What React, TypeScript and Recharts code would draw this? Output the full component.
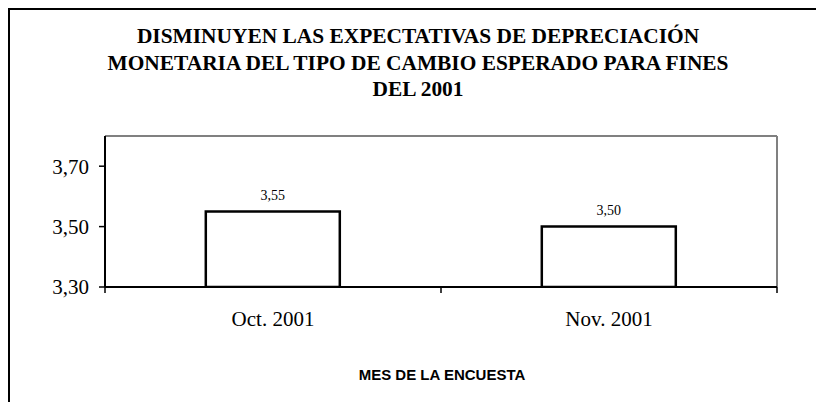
import React from 'react';
import { BarChart, Bar, XAxis, YAxis, LabelList, ReferenceLine } from 'recharts';

const categories = ['Oct. 2001', 'Nov. 2001'];
const values = [3.55, 3.5];
const yTicks = [3.3, 3.5, 3.7];
const yDomain: [number, number] = [3.3, 3.8];
const titleLines = [
  'DISMINUYEN LAS EXPECTATIVAS DE DEPRECIACIÓN',
  'MONETARIA DEL TIPO DE CAMBIO ESPERADO PARA FINES',
  'DEL 2001',
];
const xAxisTitle = 'MES DE LA ENCUESTA';

const data = categories.map((c, i) => ({ name: c, value: values[i] }));

const fmt = (v: any) => Number(v).toFixed(2).replace('.', ',');

const SERIF = '"Liberation Serif", "Times New Roman", serif';
const SANS = '"Liberation Sans", Arial, sans-serif';

const XTick = (props: any) => {
  const { x, y, payload } = props;
  const half = payload && payload.offset ? payload.offset : 168;
  const axisY = y - 6;
  const isLast = payload.value === categories[categories.length - 1];
  return (
    <g>
      <line x1={x - half} x2={x - half} y1={axisY} y2={axisY + 6} stroke="#000" strokeWidth={1.5} />
      {isLast && (
        <line x1={x + half} x2={x + half} y1={axisY} y2={axisY + 6} stroke="#000" strokeWidth={1.5} />
      )}
      <text x={x} y={y} dy={33} textAnchor="middle" fontSize={21} fontFamily={SERIF} fill="#000">
        {payload.value}
      </text>
    </g>
  );
};

export default function App() {
  return (
    <div style={{ position: 'absolute', left: 0, top: 0, width: 816, height: 402, overflow: 'hidden', background: '#fff' }}>
      <div
        style={{
          position: 'absolute',
          left: 8,
          top: 8,
          width: 900,
          height: 500,
          borderLeft: '2px solid #000',
          borderTop: '2px solid #000',
        }}
      />
      <div
        style={{
          position: 'absolute',
          left: 8,
          top: 23,
          width: 820,
          textAlign: 'center',
          fontFamily: SERIF,
          fontWeight: 'bold',
          fontSize: 21.4,
          lineHeight: '26.5px',
          color: '#000',
        }}
      >
        {titleLines.map((t, i) => (
          <div key={i}>{t}</div>
        ))}
      </div>
      <div style={{ position: 'absolute', left: 0, top: 0 }}>
        <BarChart
          width={816}
          height={402}
          data={data}
          margin={{ top: 136, left: 45, right: 39, bottom: 75 }}
          barCategoryGap="30%"
        >
          <ReferenceLine y={yDomain[1]} stroke="#808080" strokeWidth={2} />
          <ReferenceLine
            x={categories[categories.length - 1]}
            position="end"
            stroke="#808080"
            strokeWidth={2}
          />
          <XAxis
            dataKey="name"
            height={40}
            tickSize={6}
            tickMargin={0}
            tickLine={false}
            tick={<XTick />}
            interval={0}
            axisLine={{ stroke: '#000', strokeWidth: 2 }}
          />
          <YAxis
            width={60}
            domain={yDomain}
            ticks={yTicks}
            allowDataOverflow
            tickFormatter={fmt}
            tickSize={6}
            tickMargin={10}
            tickLine={{ stroke: '#000', strokeWidth: 1.5 }}
            axisLine={{ stroke: '#000', strokeWidth: 2 }}
            tick={{ fontSize: 21, fontFamily: SERIF, fill: '#000' }}
          />
          <Bar dataKey="value" fill="#fff" stroke="#000" strokeWidth={2.5} isAnimationActive={false}>
            <LabelList
              dataKey="value"
              position="top"
              offset={12}
              formatter={fmt}
              style={{ fontSize: 14, fontFamily: SERIF, fill: '#000' }}
            />
          </Bar>
        </BarChart>
      </div>
      <div
        style={{
          position: 'absolute',
          left: 342,
          width: 200,
          top: 366,
          textAlign: 'center',
          fontFamily: SANS,
          fontWeight: 'bold',
          fontSize: 15,
          lineHeight: '17px',
          color: '#000',
        }}
      >
        {xAxisTitle}
      </div>
    </div>
  );
}
